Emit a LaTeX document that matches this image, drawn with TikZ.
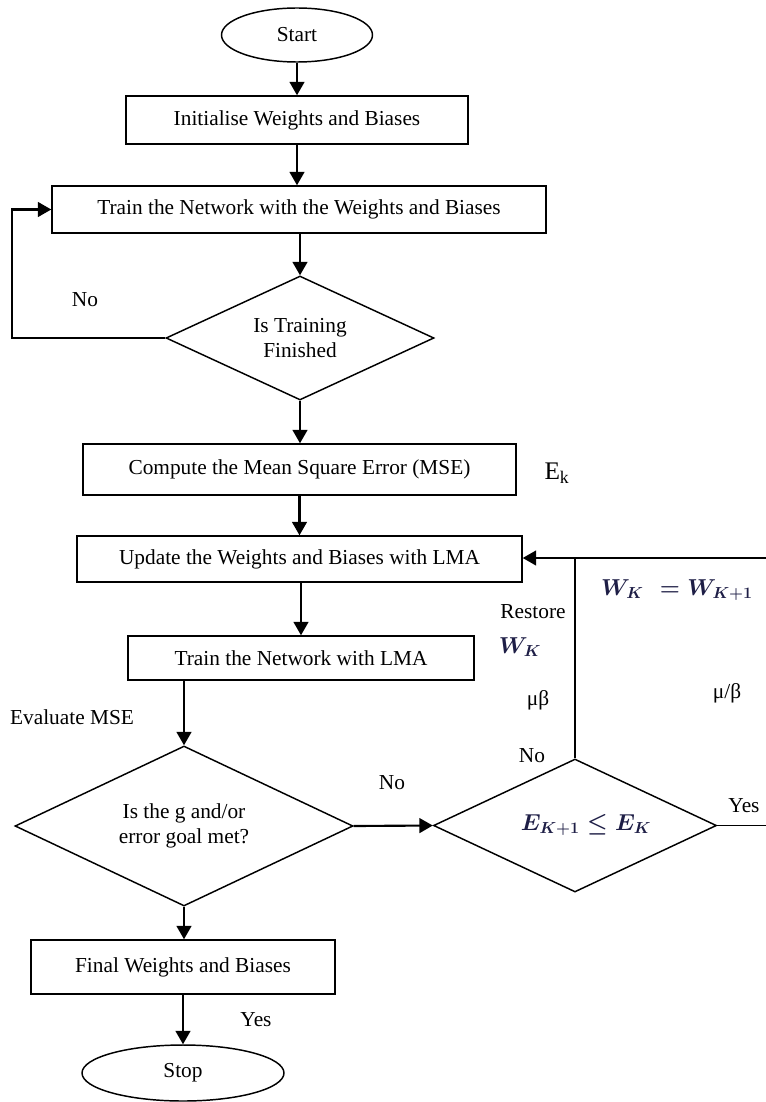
\documentclass[tikz,border=0pt]{standalone}
\usepackage{fontspec}
\setmainfont{Liberation Serif}
\usetikzlibrary{shapes.geometric,arrows.meta}

\definecolor{mathink}{RGB}{30,30,70}

\tikzset{every picture/.style={line width=1.1pt}}
\tikzset{
  procbox/.style={draw,rectangle,inner sep=0pt,font=\fontsize{16}{19}\selectfont},
  termbox/.style={draw,ellipse,inner sep=0pt,font=\fontsize{16}{19}\selectfont},
  testbox/.style={draw,diamond,aspect=2,inner sep=0pt,align=center,font=\fontsize{16}{19}\selectfont},
  flow/.style={line width=1.6pt,-{Triangle[length=10pt,width=11pt]}},
  note/.style={font=\fontsize{16}{19}\selectfont},
  mnote/.style={text=mathink,font=\fontsize{18}{21}\selectfont}
}

\begin{document}
\begin{tikzpicture}[x=0.75pt,y=0.75pt,yscale=-1,xscale=1]
\useasboundingbox (0,0) rectangle (766,1102);

%Shape: Ellipse [start]
\node [termbox,minimum width=113.25pt,minimum height=40.5pt] (start) at (297,35) {Start};
%Shape: Rectangle [init]
\node [procbox,minimum width=256.5pt,minimum height=36pt] (init) at (297,120) {Initialise Weights and Biases};
%Shape: Rectangle [train]
\node [procbox,minimum width=370.5pt,minimum height=35.25pt] (train) at (299,209.5) {Train the Network with the Weights and Biases};
%Shape: Diamond [done]
\node [testbox,minimum width=201pt,minimum height=93pt] (done) at (300,338) {Is Training\\Finished};
%Shape: Rectangle [mse]
\node [procbox,minimum width=324.75pt,minimum height=38.25pt] (mse) at (299.5,469.5) {Compute the Mean Square Error (MSE)};
%Shape: Rectangle [update]
\node [procbox,minimum width=333.75pt,minimum height=34.5pt] (update) at (299.5,559) {Update the Weights and Biases with LMA};
%Shape: Rectangle [lma]
\node [procbox,minimum width=259.5pt,minimum height=33pt] (lma) at (301,658) {Train the Network with LMA};
%Shape: Diamond [goal]
\node [testbox,minimum width=253.5pt,minimum height=120pt] (goal) at (184,826) {Is the g and/or\\error goal met?};
%Shape: Diamond [errtest]
\node [draw,diamond,aspect=2,inner sep=0pt,minimum width=212.25pt,minimum height=99.75pt] (errtest) at (575,825.5) {};
%Shape: Rectangle [final]
\node [procbox,minimum width=228pt,minimum height=40.5pt] (final) at (183,967) {Final Weights and Biases};
%Shape: Ellipse [stop]
\node [termbox,minimum width=151.5pt,minimum height=42pt] (stop) at (183,1073) {Stop};

% free ends
\coordinate (back) at (12,338);
\coordinate (rightin) at (766,558);
\coordinate (rightout) at (766,825.5);

%Straight Lines
\draw [flow] (start) -- (init);
\draw [flow] (init.south) -- (init.south |- train.north);
\draw [flow] (train.south -| done.north) -- (done.north);
\draw [flow] (done.west) -- (back) |- (train.west);
\draw [flow] (done.south) -- (done.south |- mse.north);
\draw [flow] (mse.south) -- (mse.south |- update.north);
\draw [flow] (update.south -| lma.north) -- (lma.north);
\draw [flow] (lma.south -| goal.north) -- (goal.north);
\draw [flow] (goal.east) -- (errtest.west);
\draw [flow] (goal.south) -- (goal.south |- final.north);
\draw [flow] (final.south) -- (stop.north);
\draw [flow] (rightin) -- (rightin -| update.east);
\draw (errtest.north) -- (errtest.north |- rightin);
\draw (errtest.east) -- (rightout);

% Text Node
\node [note] (no1) at (85,300) {No};
% Text Node
\node [font=\fontsize{19}{22}\selectfont] (ek) at (557,473) {E\textsubscript{k}};
% Text Node
\node [mnote] (keep) at (677,590) {{\mathversion{bold}$W_K\,\,=W_{K+1}$}};
% Text Node
\node [note] (restore) at (533,612) {Restore};
% Text Node
\node [mnote] (wk) at (520,647) {{\mathversion{bold}$W_K$}};
% Text Node
\node [note] (mub) at (538,700) {μβ};
% Text Node
\node [note] (mud) at (727,693) {μ/β};
% Text Node
\node [note] (no2) at (532,756) {No};
% Text Node
\node [note] (no3) at (392,783) {No};
% Text Node
\node [note] (yes1) at (744,806) {Yes};
% Text Node
\node [note] (eval) at (72,717) {Evaluate MSE};
% Text Node
\node [note] (yes2) at (256,1020) {Yes};
% Text Node
\node [mnote] (errlab) at (586,825) {{\mathversion{bold}$E_{K+1}\leq E_K$}};

\end{tikzpicture}
\end{document}
